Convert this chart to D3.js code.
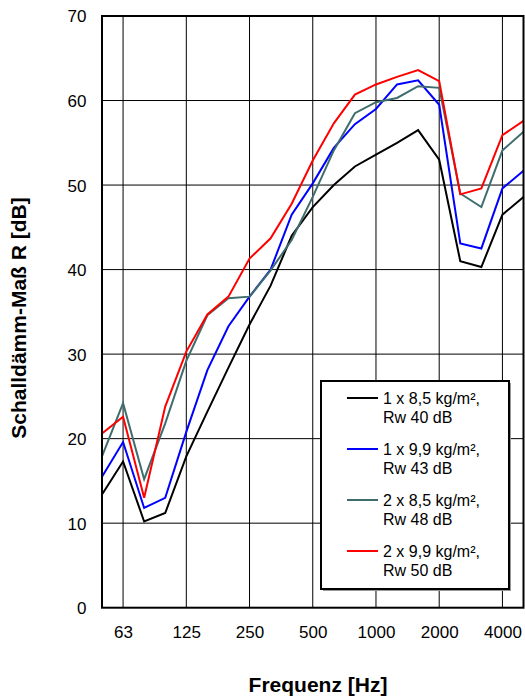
<!DOCTYPE html>
<html>
<head>
<meta charset="utf-8">
<script src="https://cdn.jsdelivr.net/npm/d3@7"></script>
<style>
  html, body { margin: 0; padding: 0; background: #fff; }
  svg { display: block; }
  text { font-family: "Liberation Sans", Arial, sans-serif; fill: #000; }
</style>
</head>
<body>
<svg id="chart" width="525" height="698"></svg>
<script>
// third-octave bands (Hz)
const bands = ["50","63","80","100","125","160","200","250","315","400","500","630","800","1000","1250","1600","2000","2500","3150","4000","5000"];
const xTickLabels = ["63","125","250","500","1000","2000","4000"];
const yTicks = [0,10,20,30,40,50,60,70];

const black1x85 = [13.4,17.3,10.2,11.2,17.9,23.2,28.4,33.5,38.1,44.0,47.4,50.0,52.2,53.6,55.0,56.5,53.0,41.0,40.3,46.5,48.6];
const blue1x99  = [15.5,19.6,11.8,13.0,20.8,28.1,33.3,36.8,40.0,46.5,50.2,54.4,57.2,59.0,61.9,62.4,59.5,43.1,42.5,49.6,51.7];
const green2x85 = [17.9,24.2,15.2,21.8,29.2,34.6,36.6,36.8,39.9,43.5,48.6,54.1,58.5,59.8,60.3,61.7,61.5,49.0,47.4,54.1,56.3];
const red2x99   = [20.6,22.6,13.0,23.8,30.3,34.7,36.8,41.3,43.7,47.8,52.9,57.3,60.7,61.9,62.8,63.6,62.3,48.9,49.6,55.9,57.6];

const seriesNames = ["1 x 8,5 kg/m²,|Rw 40 dB","1 x 9,9 kg/m²,|Rw 43 dB","2 x 8,5 kg/m²,|Rw 48 dB","2 x 9,9 kg/m²,|Rw 50 dB"];
const seriesColors = ["#000000","#0000ff","#3f6d6d","#ff0000"];
const seriesData = [black1x85, blue1x99, green2x85, red2x99];

const svg = d3.select("#chart");
const L = 102, R = 523.5, T = 16, B = 607.7;

const x = d3.scalePoint().domain(bands).range([L, R]).padding(0);
const y = d3.scaleLinear().domain([0, 70]).range([B, T]);

// grid
const grid = svg.append("g");
grid.selectAll("line.h").data(yTicks.slice(1, -1)).join("line")
  .attr("x1", L).attr("x2", R).attr("y1", d => y(d)).attr("y2", d => y(d))
  .attr("stroke", "#000").attr("stroke-width", 1);
grid.selectAll("line.v").data(xTickLabels).join("line")
  .attr("x1", d => x(d)).attr("x2", d => x(d)).attr("y1", T).attr("y2", B)
  .attr("stroke", "#000").attr("stroke-width", 1);

// axes labels
const xAxis = d3.axisBottom(x).tickValues(xTickLabels).tickSize(0).tickPadding(0);
const gx = svg.append("g").attr("transform", `translate(0,${B})`).call(xAxis);
gx.select(".domain").remove();
gx.selectAll("text").attr("y", 30.5).attr("dy", null)
  .style("font-size", "17px").style("font-family", "Liberation Sans, Arial, sans-serif");

const yAxis = d3.axisLeft(y).tickValues(yTicks).tickSize(0).tickPadding(15.5);
const gy = svg.append("g").attr("transform", `translate(${L},0)`).call(yAxis);
gy.select(".domain").remove();
gy.selectAll("text").attr("dy", "0.35em")
  .style("font-size", "17px").style("font-family", "Liberation Sans, Arial, sans-serif");

// lines
const line = d3.line().x((d, i) => x(bands[i])).y(d => y(d));
const lines = svg.append("g");
seriesData.forEach((s, k) => {
  lines.append("path").datum(s).attr("d", line)
    .attr("fill", "none").attr("stroke", seriesColors[k]).attr("stroke-width", 2)
    .attr("stroke-linejoin", "miter");
});

// frame
svg.append("rect").attr("x", L).attr("y", T).attr("width", R - L).attr("height", B - T)
  .attr("fill", "none").attr("stroke", "#000").attr("stroke-width", 2);

// legend
const lg = svg.append("g");
const lx = 321, ly = 381, lw = 188, lh = 208;
lg.append("rect").attr("x", lx + 2).attr("y", ly + 2).attr("width", lw).attr("height", lh).attr("fill", "#999");
lg.append("rect").attr("x", lx).attr("y", ly).attr("width", lw).attr("height", lh)
  .attr("fill", "#fff").attr("stroke", "#000").attr("stroke-width", 2);
seriesNames.forEach((name, k) => {
  const cy = 398 + k * 51;
  lg.append("line").attr("x1", 347).attr("x2", 378).attr("y1", cy).attr("y2", cy)
    .attr("stroke", seriesColors[k]).attr("stroke-width", 2);
  const parts = name.split("|");
  lg.append("text").attr("x", 383).attr("y", cy).attr("dy", "0.35em")
    .style("font-size", "16px").text(parts[0]);
  lg.append("text").attr("x", 383).attr("y", cy + 19.5).attr("dy", "0.35em")
    .style("font-size", "16px").text(parts[1]);
});

// axis titles
svg.append("text").attr("x", 318).attr("y", 692).attr("text-anchor", "middle")
  .style("font-size", "21px").style("font-weight", "bold").text("Frequenz [Hz]");
svg.append("text").attr("transform", "translate(26,318) rotate(-90)").attr("text-anchor", "middle")
  .style("font-size", "21px").style("font-weight", "bold").text("Schalldämm-Maß R [dB]");
</script>
</body>
</html>
